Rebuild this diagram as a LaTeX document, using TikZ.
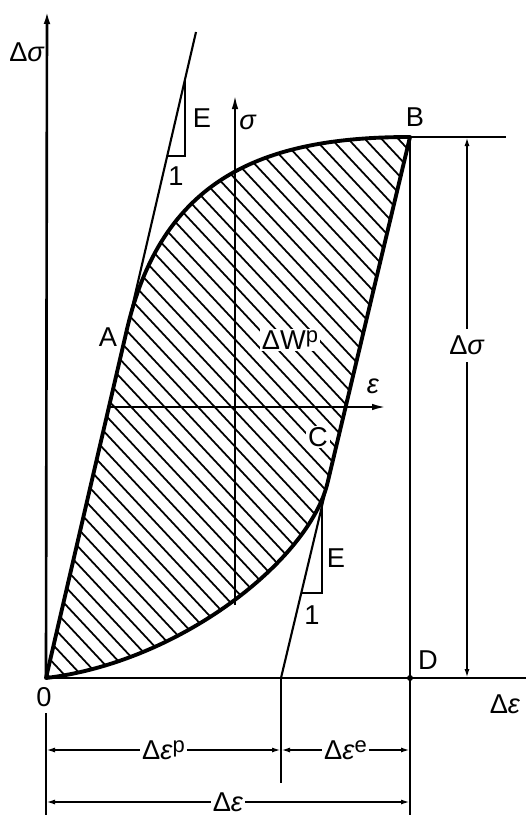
\documentclass[tikz,border=0pt]{standalone}
\usepackage{fontspec}
\setmainfont{Liberation Sans}
\usetikzlibrary{arrows.meta, positioning}
\newcommand{\sgm}{\textit{σ}}
\newcommand{\epsl}{\textit{ε}}
\newcommand{\upr}[1]{\raisebox{0.5ex}{\fontsize{12.5}{13}\selectfont #1}}

\begin{document}
\begin{tikzpicture}[
    x=0.2mm, y=-0.2mm,
    lbl/.style={inner sep=1pt, font=\fontsize{15.5}{18}\selectfont},
    axis/.style={draw, line width=1.5pt, -{Latex[length=2.8mm, width=1.3mm]}},
    loopline/.style={draw, line width=2.2pt, line join=round},
    tangent/.style={draw, line width=1.2pt},
    hatch/.style={draw, line width=1pt},
    dim/.style={draw, line width=1pt, {Latex[length=1.8mm, width=1mm]}-{Latex[length=1.8mm, width=1mm]}},
    extn/.style={draw, line width=1.2pt}
  ]
  \useasboundingbox (0,0) rectangle (526,815);
  \def\edgewidth{1.2pt}

  % points of the loop
  \coordinate (O) at (46,678);
  \coordinate (A) at (126.8,330);
  \coordinate (B) at (410,137);
  \coordinate (C) at (327.5,483);
  \coordinate (D) at (410,678);
  \coordinate (Et) at (196,32);
  \coordinate (Eb) at (281,678);

  % hatching
  \begin{scope}
    \clip (O) -- (A) .. controls (161.6,180) and (260,137) .. (B) -- (C)
      .. controls (309,560) and (180,662) .. (O) -- cycle;
    \foreach \k in {0,...,56}
      \draw[hatch] ({-600+16.7*\k},0) -- ({162+16.7*\k},815);
  \end{scope}
  \path[loopline] (O) -- (A) .. controls (161.6,180) and (260,137) .. (B) -- (C)
      .. controls (309,560) and (180,662) .. (O) -- cycle;

  % main axes
  \coordinate (Ya) at (47,10);
  \coordinate (Xa) at (526,678);
  \draw[axis] (O) -- (Ya);
  \draw[line width=1.6pt] (O) -- (Xa);

  % sigma-epsilon axes
  \coordinate (s0) at (235,605);
  \coordinate (s1) at (235,95);
  \coordinate (e0) at (109,407);
  \coordinate (e1) at (386,407);
  \draw[axis, line width=1.2pt] (s0) -- (s1);
  \draw[axis, line width=1.2pt] (e0) -- (e1);

  % elastic lines and slope triangles
  \draw[tangent] (A) -- (Et);
  \draw[tangent] (C) -- (Eb);
  \coordinate (u1) at (167.2,156);
  \coordinate (u2) at (185,156);
  \coordinate (u3) at (185,79.4);
  \draw[line width=\edgewidth] (u1) -- (u2) -- (u3);
  \coordinate (w1) at (301.3,593);
  \coordinate (w2) at (322,593);
  \coordinate (w3) at (322,506);
  \draw[line width=\edgewidth] (w1) -- (w2) -- (w3);

  % extension lines
  \coordinate (Bh) at (506,137);
  \coordinate (Dv) at (410,815);
  \coordinate (Ov) at (46,713);
  \coordinate (Ov2) at (46,815);
  \coordinate (Ebv) at (281,783);
  \draw[extn] (B) -- (Bh);
  \draw[extn] (B) -- (Dv);
  \draw[extn] (Ov) -- (Ov2);
  \draw[extn] (Eb) -- (Ebv);
  \fill (D) circle (0.6mm);

  % dimensions
  \coordinate (p0) at (46,750);
  \coordinate (p1) at (281,750);
  \coordinate (p2) at (410,750);
  \coordinate (q0) at (46,802);
  \coordinate (q1) at (410,802);
  \coordinate (r0) at (467,137);
  \coordinate (r1) at (467,678);
  \draw[dim] (p0) -- node[lbl, fill=white] {Δ\epsl\upr{p}} (p1);
  \draw[dim] (p1) -- node[lbl, fill=white] {Δ\epsl\upr{e}} (p2);
  \draw[dim] (q0) -- node[lbl, fill=white] {Δ\epsl} (q1);
  \draw[dim] (r0) -- node[lbl, fill=white, pos=0.385, inner ysep=4pt] {Δ\sgm} (r1);

  % labels
  \node[lbl] (lDs) at (27,52) {Δ\sgm};
  \node[lbl] (lO) at (44,697) {0};
  \node[lbl] (lA) at (108,337) {A};
  \node[lbl] (lB) at (415,117) {B};
  \node[lbl, fill=white] (lC) at (318,437) {C};
  \node[lbl] (lD) at (428,660) {D};
  \node[lbl] (lE1) at (202,118) {E};
  \node[lbl] (l11) at (176,176) {1};
  \node[lbl] (lE2) at (336,558) {E};
  \node[lbl] (l12) at (312,615) {1};
  \node[lbl] (ls) at (248,122) {\sgm};
  \node[lbl] (le) at (373,386) {\epsl};
  \node[lbl, fill=white] (lW) at (290,340) {ΔW\upr{p}};
  \node[lbl] (lDe) at (505,704) {Δ\epsl};
\end{tikzpicture}
\end{document}
